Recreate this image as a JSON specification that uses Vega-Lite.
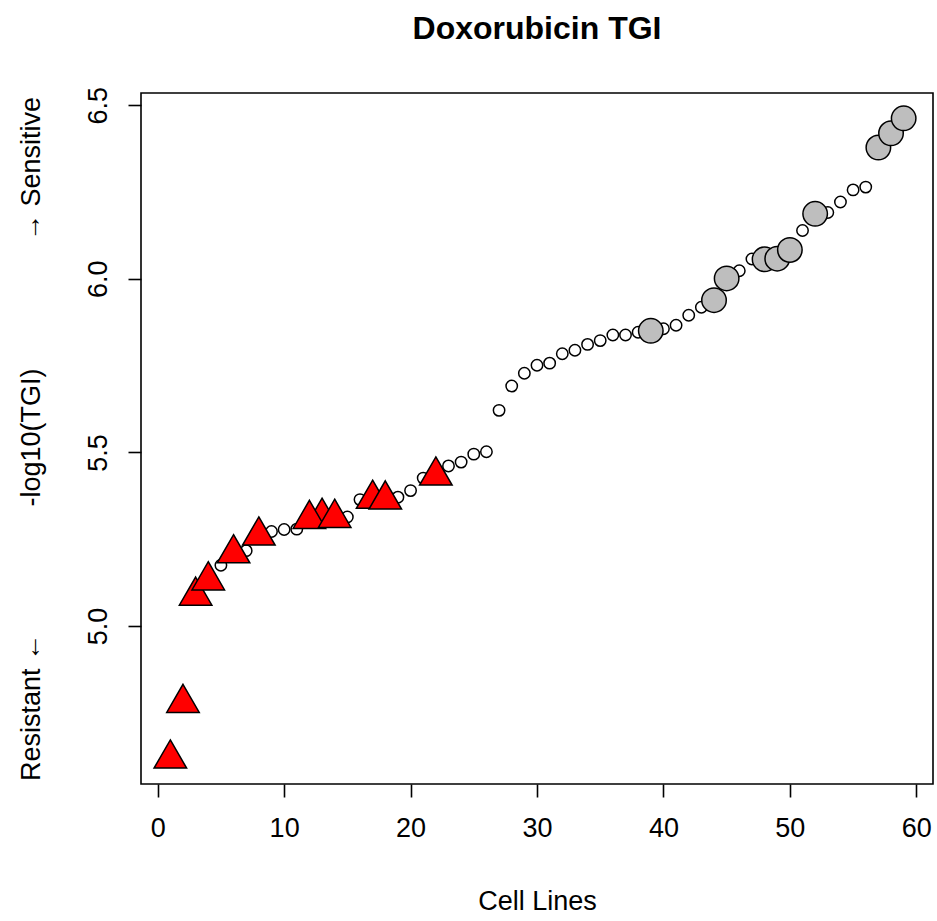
{
  "$schema": "https://vega.github.io/schema/vega-lite/v6.json",
  "autosize": {"type": "none"},
  "width": 792,
  "height": 691,
  "padding": {"left": 141, "top": 93, "right": 4, "bottom": 137},
  "background": "white",
  "title": {
    "text": "Doxorubicin TGI",
    "font": "Liberation Sans",
    "fontSize": 32,
    "fontWeight": "bold",
    "color": "black",
    "anchor": "middle",
    "frame": "group",
    "offset": 40
  },
  "config": {
    "view": {"stroke": "black", "strokeWidth": 1.6},
    "axis": {
      "labelFont": "Liberation Sans",
      "titleFont": "Liberation Sans",
      "labelFontSize": 27,
      "titleFontSize": 27,
      "titleFontWeight": "normal",
      "labelColor": "black",
      "titleColor": "black",
      "tickColor": "black",
      "tickWidth": 1.6,
      "tickSize": 13,
      "domain": false,
      "grid": false
    }
  },
  "data": {
    "values": [
      {"i": 1, "v": 4.618, "g": "R"},
      {"i": 2, "v": 4.778, "g": "R"},
      {"i": 3, "v": 5.087, "g": "R"},
      {"i": 4, "v": 5.131, "g": "R"},
      {"i": 5, "v": 5.175, "g": "N"},
      {"i": 6, "v": 5.209, "g": "R"},
      {"i": 7, "v": 5.217, "g": "N"},
      {"i": 8, "v": 5.26, "g": "R"},
      {"i": 9, "v": 5.272, "g": "N"},
      {"i": 10, "v": 5.278, "g": "N"},
      {"i": 11, "v": 5.279, "g": "N"},
      {"i": 13, "v": 5.314, "g": "R"},
      {"i": 12, "v": 5.308, "g": "R"},
      {"i": 14, "v": 5.311, "g": "R"},
      {"i": 15, "v": 5.314, "g": "N"},
      {"i": 16, "v": 5.364, "g": "N"},
      {"i": 17, "v": 5.366, "g": "R"},
      {"i": 18, "v": 5.364, "g": "R"},
      {"i": 19, "v": 5.371, "g": "N"},
      {"i": 20, "v": 5.39, "g": "N"},
      {"i": 21, "v": 5.426, "g": "N"},
      {"i": 22, "v": 5.433, "g": "R"},
      {"i": 23, "v": 5.461, "g": "N"},
      {"i": 24, "v": 5.472, "g": "N"},
      {"i": 25, "v": 5.495, "g": "N"},
      {"i": 26, "v": 5.502, "g": "N"},
      {"i": 27, "v": 5.621, "g": "N"},
      {"i": 28, "v": 5.691, "g": "N"},
      {"i": 29, "v": 5.728, "g": "N"},
      {"i": 30, "v": 5.751, "g": "N"},
      {"i": 31, "v": 5.757, "g": "N"},
      {"i": 32, "v": 5.784, "g": "N"},
      {"i": 33, "v": 5.794, "g": "N"},
      {"i": 34, "v": 5.811, "g": "N"},
      {"i": 35, "v": 5.822, "g": "N"},
      {"i": 36, "v": 5.838, "g": "N"},
      {"i": 37, "v": 5.838, "g": "N"},
      {"i": 38, "v": 5.846, "g": "N"},
      {"i": 39, "v": 5.85, "g": "S"},
      {"i": 40, "v": 5.856, "g": "N"},
      {"i": 41, "v": 5.866, "g": "N"},
      {"i": 42, "v": 5.895, "g": "N"},
      {"i": 43, "v": 5.918, "g": "N"},
      {"i": 44, "v": 5.9385, "g": "S"},
      {"i": 45, "v": 6.001, "g": "S"},
      {"i": 46, "v": 6.023, "g": "N"},
      {"i": 47, "v": 6.057, "g": "N"},
      {"i": 48, "v": 6.056, "g": "S"},
      {"i": 49, "v": 6.058, "g": "S"},
      {"i": 50, "v": 6.083, "g": "S"},
      {"i": 51, "v": 6.139, "g": "N"},
      {"i": 52, "v": 6.187, "g": "S"},
      {"i": 53, "v": 6.191, "g": "N"},
      {"i": 54, "v": 6.221, "g": "N"},
      {"i": 55, "v": 6.256, "g": "N"},
      {"i": 56, "v": 6.264, "g": "N"},
      {"i": 57, "v": 6.378, "g": "S"},
      {"i": 58, "v": 6.419, "g": "S"},
      {"i": 59, "v": 6.462, "g": "S"}
    ]
  },
  "encoding": {
    "x": {
      "field": "i",
      "type": "quantitative",
      "scale": {"domain": [-1.32, 61.32], "nice": false, "zero": false},
      "axis": {
        "values": [0, 10, 20, 30, 40, 50, 60],
        "title": "Cell Lines",
        "labelPadding": 18,
        "titlePadding": 47,
        "labelFlush": false,
        "labelOverlap": false
      }
    },
    "y": {
      "field": "v",
      "type": "quantitative",
      "scale": {"domain": [4.545, 6.535], "nice": false, "zero": false},
      "axis": {
        "values": [5.0, 5.5, 6.0, 6.5],
        "format": ".1f",
        "labelAngle": -90,
        "labelAlign": "center",
        "labelBaseline": "bottom",
        "labelPadding": 16,
        "labelFlush": false,
        "labelOverlap": false,
        "titlePadding": 39,
        "title": "Resistant ←\u00a0\u00a0\u00a0\u00a0\u00a0\u00a0\u00a0\u00a0\u00a0\u00a0\u00a0\u00a0\u00a0\u00a0\u00a0\u00a0\u00a0-log10(TGI)\u00a0\u00a0\u00a0\u00a0\u00a0\u00a0\u00a0\u00a0\u00a0\u00a0\u00a0\u00a0\u00a0\u00a0\u00a0\u00a0\u00a0→ Sensitive"
      }
    }
  },
  "layer": [
    {
      "transform": [{"filter": "datum.g === 'N'"}],
      "mark": {"type": "point", "shape": "circle", "filled": true, "fill": "white", "stroke": "black", "strokeWidth": 1.5, "size": 130, "opacity": 1}
    },
    {
      "transform": [{"filter": "datum.g === 'R'"}],
      "mark": {"type": "point", "shape": "M0,-1L0.866,0.5L-0.866,0.5Z", "filled": true, "fill": "#FF0000", "stroke": "black", "strokeWidth": 1.5, "size": 1410, "opacity": 1}
    },
    {
      "transform": [{"filter": "datum.g === 'S'"}],
      "mark": {"type": "point", "shape": "circle", "filled": true, "fill": "#BEBEBE", "stroke": "black", "strokeWidth": 1.5, "size": 600, "opacity": 1}
    }
  ]
}
